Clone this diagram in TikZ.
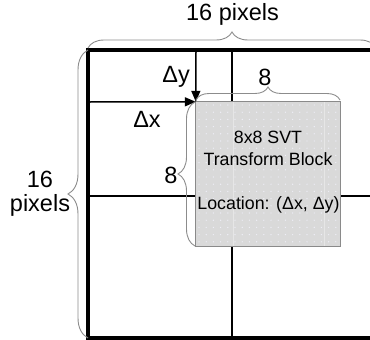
\documentclass[tikz,border=0pt]{standalone}
\usepackage{fontspec}
\setmainfont{Liberation Sans}
\usetikzlibrary{arrows.meta,decorations.pathreplacing}
\definecolor{bracegray}{HTML}{8C8C8C}
\definecolor{blockgray}{HTML}{D9D9D9}
\definecolor{dotcol}{HTML}{EEEEF6}
\definecolor{edgegray}{HTML}{8A8A8A}
\definecolor{faintline}{HTML}{E6E6E6}
\begin{document}
\begin{tikzpicture}[x=1pt,y=-1pt,
  bracestyle/.style={draw=bracegray,line width=0.9pt,decorate,decoration={brace,amplitude=#1}},
  lbl/.style={font=\fontsize{23.5}{28}\selectfont,inner sep=0pt},
  blktext/.style={font=\fontsize{17.8}{22}\selectfont,inner sep=0pt},
  frameline/.style={line width=4pt,line join=miter},
  gridline/.style={line width=2pt},
  arr/.style={line width=1.5pt,-{Triangle[length=11pt,width=9pt]}}]
\useasboundingbox (0,0) rectangle (370,340);
\clip (0,0) rectangle (370,340);
% grid lines
\coordinate (gt) at (232,50); \coordinate (gb) at (232,338);
\coordinate (gl) at (88,196); \coordinate (gr) at (376,196);
\draw[gridline] (gt) -- (gb);
\draw[gridline] (gl) -- (gr);
% frame
\coordinate (ftr) at (378,50); \coordinate (ftl) at (88,50);
\coordinate (fbl) at (88,338); \coordinate (fbr) at (378,338);
\draw[frameline] (ftr) -- (ftl) -- (fbl) -- (fbr);
% block
\node[fill=blockgray, minimum width=144pt, minimum height=144pt, inner sep=0pt] (blk) at (268,174) {};
\begin{scope}
\clip (blk.north west) rectangle (blk.south east);
\foreach \i in {0,...,20} {\foreach \j in {0,...,20} {\fill[dotcol] (199+\i*7.2,105+\j*7.2) circle (0.7pt);}}
\end{scope}
\coordinate (fa1) at (233.5,102); \coordinate (fa2) at (233.5,246);
\coordinate (fb1) at (324.5,102); \coordinate (fb2) at (324.5,246);
\draw[faintline,line width=0.8pt] (fa1) -- (fa2);
\draw[faintline,line width=0.8pt] (fb1) -- (fb2);
\draw[edgegray,line width=0.8pt] (blk.north west) rectangle (blk.south east);
% arrows
\coordinate (ay) at (196,52); \coordinate (ax) at (90,102);
\draw[arr] (ay) -- (blk.north west);
\draw[arr] (ax) -- (blk.north west);
% braces
\coordinate (b1a) at (88,48); \coordinate (b1b) at (376,48);
\coordinate (b2a) at (88,338); \coordinate (b2b) at (88,50);
\coordinate (b3a) at (196,100); \coordinate (b3b) at (340,100);
\coordinate (b4a) at (195,246); \coordinate (b4b) at (195,102);
\draw[bracestyle=16] (b1a) -- (b1b);
\draw[bracestyle=20] (b2a) -- (b2b);
\draw[bracestyle=13] (b3a) -- (b3b);
\draw[bracestyle=17] (b4a) -- (b4b);
% labels
\node[lbl,anchor=base] (t16) at (232.5,20) {16 pixels};
\node[lbl,anchor=base] (l16) at (40,187) {16};
\node[lbl,anchor=base] (lpx) at (40,211) {pixels};
\node[lbl,anchor=base east] (dy) at (190,82) {Δy};
\node[lbl,anchor=base] (dx) at (147,127) {Δx};
\node[lbl,anchor=base] (t8) at (265,85) {8};
\node[lbl,anchor=base] (l8) at (171,183) {8};
\node[blktext,anchor=base] (bt1) at (268,143) {8x8 SVT};
\node[blktext,anchor=base] (bt2) at (268,165) {Transform Block};
\node[blktext,anchor=base] (bt3) at (268.5,209) {Location: (Δx, Δy)};
\end{tikzpicture}
\end{document}
